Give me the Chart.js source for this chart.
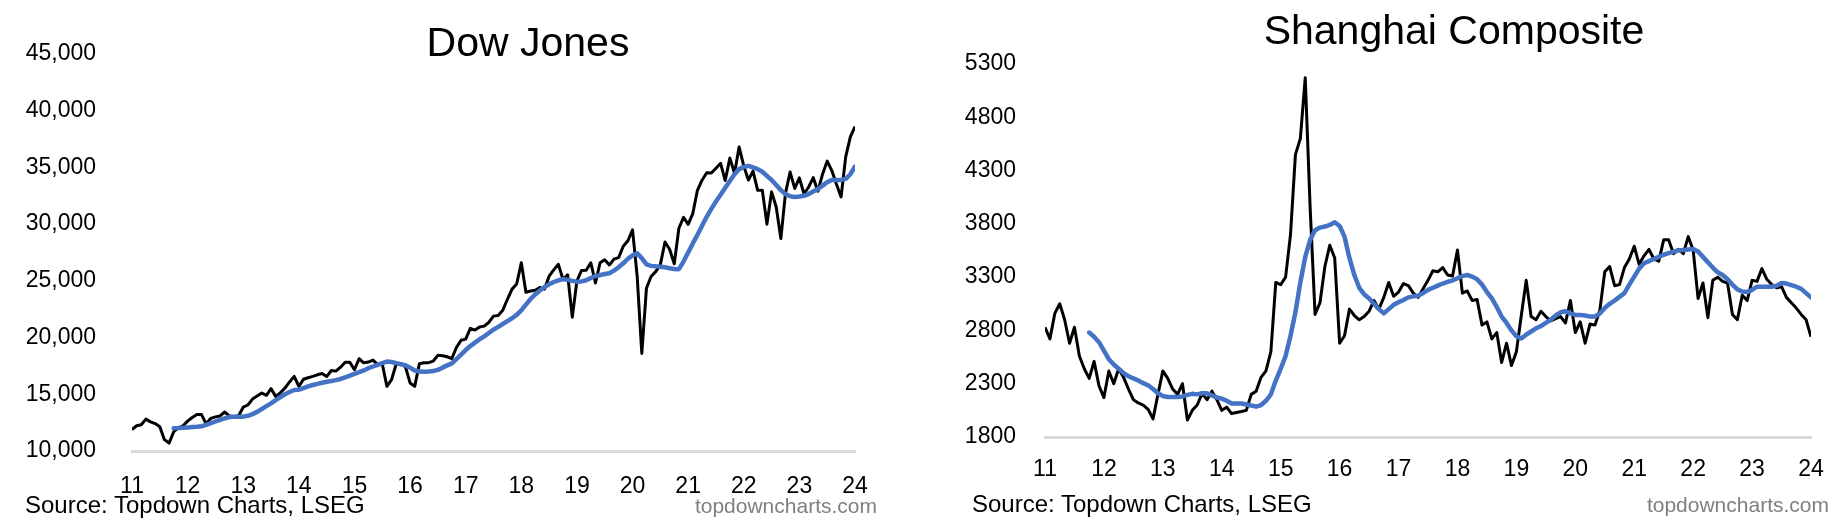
<!DOCTYPE html>
<html lang="en">
<head>
<meta charset="UTF-8">
<title>Dow Jones and Shanghai Composite</title>
<script src="https://cdn.jsdelivr.net/npm/chart.js"></script>
<style>
    body {
        margin: 0;
        padding: 0;
        background: #fff;
        font-family: 'Liberation Sans', Arial, sans-serif;
    }
    .page {
        position: relative;
        width: 1845px;
        height: 527px;
        overflow: hidden;
    }
    .panel {
        position: absolute;
        top: 0;
        width: 920px;
        height: 527px;
    }
    .title {
        position: absolute;
        font-size: 41px;
        line-height: 41px;
        color: #000;
        text-align: center;
        white-space: nowrap;
    }
    .source {
        position: absolute;
        font-size: 24px;
        line-height: 24px;
        color: #000;
        white-space: nowrap;
    }
    .site {
        position: absolute;
        font-size: 21px;
        line-height: 21px;
        color: #7f7f7f;
        white-space: nowrap;
        text-align: right;
    }
</style>
</head>
<body>
<div class="page">
    <div class="panel" style="left:0"><canvas id="dowChart"></canvas></div>
    <div class="panel" style="left:925px"><canvas id="shChart"></canvas></div>

    <div class="title" style="left:328px; width:400px; top:22px">Dow Jones</div>
    <div class="title" style="left:1254px; width:400px; top:10px">Shanghai Composite</div>

    <div class="source" style="left:25px; top:493px">Source: Topdown Charts, LSEG</div>
    <div class="site" style="left:577px; width:300px; top:495px">topdowncharts.com</div>
    <div class="source" style="left:972px; top:492px">Source: Topdown Charts, LSEG</div>
    <div class="site" style="left:1529px; width:300px; top:494px">topdowncharts.com</div>
</div>

<script>
    // monthly points, first one is Jan 2011 (x = 11), one step = 1/12 year
    const startYear = 11;
    const avgStart = 9;   // moving average starts Oct 2011

    const dowClose = [
        11890, 12226, 12320, 12811, 12570, 12414, 12143, 11000, 10700, 11700, 12046, 12218,
        12633, 12952, 13212, 13214, 12393, 12880, 13009, 13091, 13437, 13096, 13026, 13104,
        13861, 14054, 14579, 14840, 15116, 14910, 15500, 14810, 15130, 15546, 16086, 16577,
        15699, 16322, 16458, 16581, 16717, 16827, 16563, 17098, 17043, 17391, 17828, 17823,
        17165, 18133, 17776, 17841, 18011, 17620, 17690, 15700, 16285, 17664, 17720, 17425,
        16000, 15700, 17685, 17774, 17787, 17930, 18432, 18401, 18308, 18142, 19124, 19763,
        19864, 20812, 20663, 20941, 21009, 21350, 21891, 21948, 22405, 23377, 24272, 24719,
        26600, 24000, 24103, 24163, 24416, 24271, 25415, 25965, 26458, 25116, 25538, 21800,
        24999, 25916, 25929, 26593, 24815, 26600, 26864, 26403, 26917, 27046, 28051, 28538,
        29500, 25409, 18600, 24346, 25383, 25813, 26428, 28430, 27782, 26502, 29639, 30606,
        29983, 30932, 32982, 33875, 34529, 34503, 34935, 35361, 33844, 35820, 34484, 36800,
        35132, 33893, 34678, 32977, 32990, 30000, 32845, 31510, 28725, 32733, 34590, 33147,
        34086, 32657, 33274, 34098, 32908, 34408, 35560, 34722, 33508, 32400, 35951, 37690,
        38600
    ];
    const dowAvg = [
        12000, 12020, 12050,
        12080, 12120, 12140, 12180, 12300, 12450, 12600, 12750, 12880, 13000, 13030, 13030,
        13030, 13100, 13250, 13450, 13700, 13950, 14200, 14480, 14750, 15000, 15200, 15380,
        15400, 15550, 15700, 15820, 15920, 16020, 16100, 16170, 16250, 16350, 16500, 16650,
        16800, 16950, 17100, 17300, 17450, 17600, 17750, 17880, 17850, 17750, 17650, 17560,
        17350, 17100, 17000, 16980, 17000, 17050, 17150, 17350, 17550, 17730, 18100, 18500,
        18900, 19250, 19550, 19850, 20100, 20400, 20700, 20950, 21200, 21450, 21700, 22000,
        22400, 22900, 23400, 23800, 24150, 24450, 24700, 24900, 25050, 25150, 25100, 25000,
        24930, 24950, 25050, 25250, 25430, 25500, 25600, 25670, 25900, 26200, 26550, 26950,
        27250, 27430, 27000, 26450, 26320, 26280, 26250, 26200, 26110, 26050, 26030, 26700,
        27500, 28300, 29050, 29850, 30650, 31350, 32000, 32600, 33200, 33800, 34400, 34850,
        35050, 35140, 35000, 34850, 34620, 34250, 33900, 33450, 33000, 32650, 32450, 32400,
        32430, 32500, 32650, 32870, 33100, 33400, 33700, 33900, 33900, 33900, 34000, 34400,
        35080
    ];

    const shClose = [
        2830, 2720, 2960, 3050, 2900, 2680, 2830, 2560, 2440, 2350, 2510, 2280,
        2170, 2420, 2300, 2440, 2360, 2250, 2150, 2120, 2100, 2060, 1970, 2200,
        2420, 2350, 2250, 2200, 2300, 1960, 2050, 2100, 2210, 2150, 2230, 2150,
        2050, 2080, 2020, 2030, 2040, 2050, 2200, 2230, 2360, 2420, 2600, 3250,
        3230, 3300, 3700, 4450, 4600, 5170, 3950, 2950, 3060, 3400, 3600, 3480,
        2680, 2750, 3000, 2940, 2900, 2930, 2980, 3080, 3000, 3110, 3250, 3120,
        3160, 3240, 3220, 3150, 3110, 3190, 3270, 3360, 3350, 3390, 3320, 3310,
        3555, 3150, 3170, 3080, 3090, 2850, 2880, 2720, 2780, 2500, 2680, 2470,
        2600, 2940, 3270, 2930, 2900, 2980, 2930, 2890, 2910, 2930, 2870, 3080,
        2780, 2880, 2680, 2860, 2850, 2990, 3350, 3400, 3220, 3230, 3390, 3470,
        3590, 3420, 3500, 3560, 3470, 3450, 3650, 3650, 3520, 3560, 3520, 3680,
        3555, 3100, 3245, 2920, 3270, 3300, 3260, 3245, 2950, 2900, 3130, 3080,
        3270, 3260, 3380, 3280, 3230, 3200, 3210, 3110, 3060, 3010, 2950, 2900,
        2740
    ];
    const shAvg = [
        2780, 2740, 2690,
        2610, 2530, 2480, 2440, 2400, 2370, 2350, 2330, 2305, 2285, 2250, 2210,
        2185, 2175, 2175, 2175, 2180, 2195, 2205, 2200, 2210, 2210, 2190, 2170,
        2160, 2140, 2115, 2115, 2115, 2105, 2095, 2085, 2100, 2140, 2200, 2330,
        2440, 2560, 2750, 2970, 3250, 3490, 3650, 3740, 3765, 3775, 3790, 3815,
        3780, 3680, 3480, 3320, 3200, 3140, 3100, 3050, 3000, 2960, 3000, 3040,
        3065, 3085, 3110, 3120, 3125, 3150, 3180, 3200, 3220, 3240, 3255, 3270,
        3290, 3310, 3320, 3305, 3280, 3230, 3160, 3100, 3020, 2930, 2870, 2800,
        2745, 2725, 2760, 2790, 2820, 2840, 2870, 2900, 2940, 2970, 2980, 2960,
        2945, 2945, 2940, 2930, 2930, 2960, 3010, 3050, 3080, 3115, 3150, 3230,
        3305, 3380, 3430, 3450, 3470, 3490, 3510, 3525, 3540, 3550, 3555, 3560,
        3565, 3540, 3490, 3440, 3390, 3345, 3320, 3280, 3230, 3185, 3165, 3160,
        3180, 3210, 3210, 3210, 3210, 3220, 3245, 3240, 3225, 3210, 3190, 3150,
        3110
    ];

    function toPoints(values, offset) {
        return values.map((v, i) => ({ x: startYear + (offset + i) / 12, y: v }));
    }

    const tickFont = { family: "'Liberation Sans', Arial, sans-serif", size: 23 };

    function makeChart(id, close, avg, yOpts, box) {
        return new Chart(document.getElementById(id), {
            type: 'line',
            data: {
                datasets: [
                    {
                        label: 'Moving average',
                        data: toPoints(avg, avgStart),
                        borderColor: '#4472C4',
                        borderWidth: 4.5,
                        borderCapStyle: 'round',
                        borderJoinStyle: 'round',
                        pointRadius: 0,
                        order: 0
                    },
                    {
                        label: 'Index',
                        data: toPoints(close, 0),
                        borderColor: '#000000',
                        borderWidth: 3,
                        borderJoinStyle: 'round',
                        pointRadius: 0,
                        order: 1
                    }
                ]
            },
            options: {
                animation: false,
                responsive: true,
                maintainAspectRatio: false,
                layout: { padding: { top: box.top, right: box.right, bottom: box.bottom, left: 0 } },
                plugins: {
                    legend: { display: false },
                    tooltip: { enabled: false }
                },
                scales: {
                    x: {
                        type: 'linear',
                        min: 11,
                        max: 24,
                        grid: { display: false },
                        border: { display: true, color: '#d9d9d9', width: 3 },
                        ticks: {
                            stepSize: 1,
                            padding: box.xPad,
                            color: '#000',
                            font: tickFont,
                            maxRotation: 0,
                            callback: v => String(v)
                        },
                        afterFit: s => { s.height = 45; }
                    },
                    y: {
                        min: yOpts.min,
                        max: yOpts.max,
                        grid: { display: false },
                        border: { display: false },
                        ticks: {
                            stepSize: yOpts.step,
                            padding: box.yPad,
                            color: '#000',
                            font: tickFont,
                            callback: yOpts.format
                        },
                        afterFit: s => { s.width = box.left; }
                    }
                }
            }
        });
    }

    makeChart('dowChart', dowClose, dowAvg,
        { min: 10000, max: 45000, step: 5000, format: v => v.toLocaleString('en-US') },
        { top: 54, right: 65, bottom: 31, left: 132, xPad: 14, yPad: 28 });

    makeChart('shChart', shClose, shAvg,
        { min: 1800, max: 5300, step: 500, format: v => String(v) },
        { top: 64, right: 34, bottom: 45, left: 120, xPad: 11, yPad: 21 });
</script>
</body>
</html>
